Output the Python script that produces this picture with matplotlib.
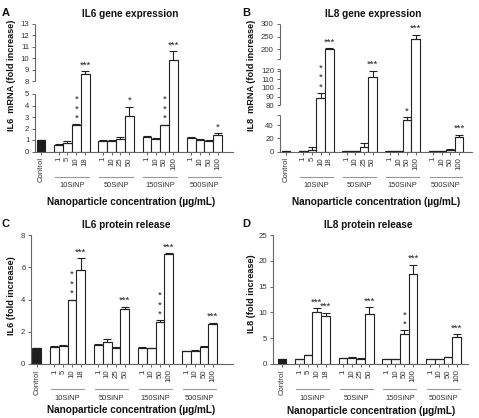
import numpy as np
import matplotlib.pyplot as plt

plt.rcParams['font.family'] = ['Liberation Sans', 'DejaVu Sans']

W, H = 479, 418

# =============================================================================
# Data
# =============================================================================
groups      = ['10SiNP', '50SiNP', '150SiNP', '500SiNP']
dose_labels = [['1', '5', '10', '18'],
               ['1', '10', '25', '50'],
               ['1', '10', '50', '100'],
               ['1', '10', '50', '100']]

# order: Control, then 4 doses for each of the 4 groups
il6_mrna     = [1.0, 0.6, 0.78, 2.3, 8.6, 0.95, 0.87, 1.1, 3.1,
                1.25, 1.12, 2.3, 9.8, 1.2, 1.02, 0.93, 1.45]
il6_mrna_err = [0, 0.05, 0.12, 0.05, 0.25, 0.05, 0.13, 0.15, 0.8,
                0.1, 0.06, 0.02, 0.8, 0.05, 0.06, 0.07, 0.15]
il6_mrna_sig = ['', '', '', '*\n*\n*', '***', '', '', '', '*',
                '', '', '*\n*\n*', '***', '', '', '', '*']

il8_mrna     = [1.0, 0.5, 3.0, 89, 200, 0.8, 0.5, 7.5, 113,
                1.0, 0.7, 47, 240, 1.0, 0.5, 3.0, 22]
il8_mrna_err = [0, 0, 3.5, 5, 2.5, 0, 0, 5, 7,
                0, 0, 5, 18, 0, 0, 0.5, 3.5]
il8_mrna_sig = ['', '', '', '*\n*\n*', '***', '', '', '', '***',
                '', '', '*', '***', '', '', '', '***']

il6_prot     = [1.0, 1.08, 1.13, 4.0, 5.85, 1.18, 1.35, 1.0, 3.42,
                0.97, 1.0, 2.63, 6.82, 0.8, 0.82, 1.08, 2.45]
il6_prot_err = [0, 0.04, 0.07, 0.0, 0.7, 0.04, 0.22, 0.05, 0.13,
                0.06, 0, 0.07, 0.06, 0.02, 0.05, 0.02, 0.1]
il6_prot_sig = ['', '', '', '*\n*\n*', '***', '', '', '', '***',
                '', '', '*\n*\n*', '***', '', '', '', '***']

il8_prot     = [1.0, 0.95, 1.7, 10.1, 9.3, 1.1, 1.25, 1.05, 9.6,
                1.0, 0.95, 5.8, 17.5, 0.9, 0.9, 1.3, 5.2]
il8_prot_err = [0, 0, 0.05, 0.7, 0.6, 0, 0.1, 0.1, 1.4,
                0.05, 0, 0.7, 1.7, 0, 0, 0.05, 0.6]
il8_prot_sig = ['', '', '', '***', '***', '', '', '', '***',
                '', '', '*\n*', '***', '', '', '', '***']

# bar positions: control at 0, groups of 4 with a gap
xpos = [0] + [2 + 5 * g + i for g in range(4) for i in range(4)]
xlabels = ['Control'] + [d for dl in dose_labels for d in dl]

# =============================================================================
# Figure
# =============================================================================
fig = plt.figure(figsize=(W / 100, H / 100), dpi=100)

AX_COL  = '#666666'
TXT_COL = '#333333'


def ftext(x, y, s, **kw):
    fig.text(x / W, 1 - y / H, s, **kw)


def broken_scale(ax, d, p):
    # piecewise linear y scale -> gaps in the axis without cutting the bars
    d = np.asarray(d, float)
    p = np.asarray(p, float)
    s0 = (p[1] - p[0]) / (d[1] - d[0])
    s1 = (p[-1] - p[-2]) / (d[-1] - d[-2])
    dd = np.r_[d[0] - 1e4, d, d[-1] + 1e4]
    pp = np.r_[p[0] - 1e4 * s0, p, p[-1] + 1e4 * s1]
    ax.set_yscale('function', functions=(lambda v: np.interp(v, dd, pp),
                                         lambda v: np.interp(v, pp, dd)))


def panel(rect_px, xlim, vals, errs, sigs, ylim, yticks, knots=None):
    spine_x, right_x, top_y, zero_y = rect_px
    w_px = right_x - spine_x
    h_px = zero_y - top_y
    ax = fig.add_axes([spine_x / W, 1 - zero_y / H, w_px / W, h_px / H])
    if knots is not None:
        broken_scale(ax, *knots)

    colors = ['#1e1e1e'] + ['white'] * 16
    ax.bar(xpos, vals, width=1.0, color=colors, edgecolor='#222222',
           linewidth=0.8, zorder=2)
    ax.errorbar(xpos, vals, yerr=[np.zeros(len(vals)), errs], fmt='none',
                ecolor='#222222', elinewidth=0.8, capsize=3, capthick=0.8,
                zorder=3)

    # significance stars
    for x, v, e, s in zip(xpos, vals, errs, sigs):
        if not s:
            continue
        for k, line in enumerate(s.split('\n')):
            ax.annotate(line, xy=(x, v + e), xytext=(0, 4.5 + k * 6.8),
                        textcoords='offset points', ha='center', va='center',
                        fontsize=6.8, color='#222222', annotation_clip=False)

    ax.set_xlim(*xlim)
    ax.set_ylim(*ylim)
    ax.set_yticks(yticks)
    ax.set_yticklabels([str(t) for t in yticks])
    ax.minorticks_off()
    ax.set_xticks(xpos)
    ax.set_xticklabels(xlabels, rotation=90)

    for sp in ['top', 'right']:
        ax.spines[sp].set_visible(False)
    for sp in ['left', 'bottom']:
        ax.spines[sp].set_color(AX_COL)
        ax.spines[sp].set_linewidth(0.8)
    ax.tick_params(labelsize=5.6, length=2.5, width=0.7, color=AX_COL,
                   labelcolor=TXT_COL, pad=1.5)

    # group underlines and labels
    trans = ax.get_xaxis_transform()
    for g, name in enumerate(groups):
        s = 2 + 5 * g
        ax.plot([s - 0.4, s + 3.4], [-25 / h_px] * 2, transform=trans,
                clip_on=False, color='#999999', lw=0.8)
        ax.text(s + 1.5, -34 / h_px, name, transform=trans, ha='center',
                va='center', fontsize=5.4, color=TXT_COL)
    return ax


def broken_spine(ax, segments, caps):
    ax.spines['left'].set_visible(False)
    tr = ax.get_yaxis_transform()
    for a, b in segments:
        ax.plot([0, 0], [a, b], transform=tr, clip_on=False,
                color=AX_COL, lw=0.8, solid_capstyle='butt')
    for c in caps:
        ax.plot([0], [c], transform=tr, clip_on=False, marker=0,
                ms=2.5, mew=0.7, color=AX_COL)


# ---- A: IL6 gene expression (broken axis 5 -> 8)
axA = panel((35, 233, 24, 151.5), (-0.68, 21.74),
            il6_mrna, il6_mrna_err, il6_mrna_sig,
            (0, 13), [0, 1, 2, 3, 4, 5, 8, 9, 10, 11, 12, 13],
            knots=([0, 5, 8, 13], [0, 57.5, 70.5, 127.5]))
broken_spine(axA, [(0, 5), (8, 13)], [])

# ---- B: IL8 gene expression (two breaks)
axB = panel((279.5, 472, 24, 151.5), (-0.75, 21.5),
            il8_mrna, il8_mrna_err, il8_mrna_sig,
            (0, 300), [0, 20, 40, 80, 90, 100, 110, 120, 200, 250, 300],
            knots=([0, 55, 80, 121.6, 159, 300],
                   [0, 36.4, 46.2, 82.2, 92.2, 127.5]))
broken_spine(axB, [(0, 55), (80, 121.6), (159, 300)], [55, 121.6, 159])

# ---- C: IL6 protein release
axC = panel((31, 233, 235, 364), (-0.66, 22.3),
            il6_prot, il6_prot_err, il6_prot_sig,
            (0, 8), [0, 2, 4, 6, 8])

# ---- D: IL8 protein release
axD = panel((273, 468, 235, 364), (-1.02, 21.3),
            il8_prot, il8_prot_err, il8_prot_sig,
            (0, 25), [0, 5, 10, 15, 20, 25])

# ---- panel texts (pixel positions)
bold = dict(fontweight='bold', color='#111111', ha='center', va='center')
ftext(6, 13, 'A', fontsize=8, **bold)
ftext(246, 13, 'B', fontsize=8, **bold)
ftext(6, 224, 'C', fontsize=8, **bold)
ftext(246, 224, 'D', fontsize=8, **bold)

ftext(130.5, 14, 'IL6 gene expression', fontsize=7.2, **bold)
ftext(373, 14, 'IL8 gene expression', fontsize=7.2, **bold)
ftext(126, 225.5, 'IL6 protein release', fontsize=7.2, **bold)
ftext(368.5, 225.5, 'IL8 protein release', fontsize=7.2, **bold)

ftext(12, 75, 'IL6  mRNA (fold increase)', fontsize=6.6, rotation=90, **bold)
ftext(252, 75, 'IL8  mRNA (fold increase)', fontsize=6.6, rotation=90, **bold)
ftext(12, 296, 'IL6 (fold increase)', fontsize=6.6, rotation=90, **bold)
ftext(251, 294, 'IL8 (fold increase)', fontsize=6.6, rotation=90, **bold)

xl = 'Nanoparticle concentration (\u00b5g/mL)'
ftext(131, 202, xl, fontsize=7.2, **bold)
ftext(376, 202, xl, fontsize=7.2, **bold)
ftext(131, 410, xl, fontsize=7.2, **bold)
ftext(371, 410.5, xl, fontsize=7.2, **bold)

fig.savefig('out.png', dpi=100)
